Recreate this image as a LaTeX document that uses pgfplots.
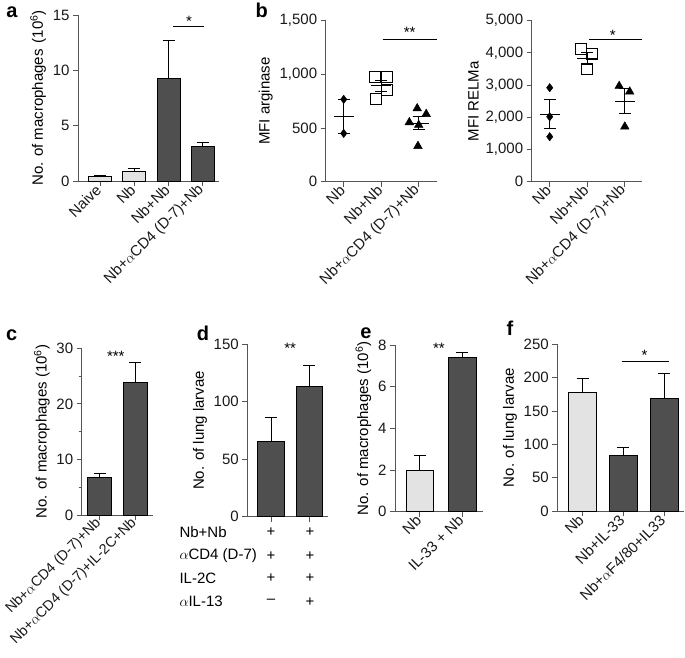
\documentclass[border=0pt]{standalone}
\usepackage{pgfplots}
\pgfplotsset{compat=1.18}
\usepackage{fontspec}
\setmainfont{Liberation Sans}
\definecolor{lightbar}{HTML}{E3E3E3}
\definecolor{darkbar}{HTML}{4F4F4F}
\definecolor{axgray}{HTML}{555555}
\newcommand{\fs}{\fontsize{15}{17}\selectfont}
\pgfplotsset{
  panel/.style={
    scale only axis, anchor=south west,
    axis x line*=bottom, axis y line*=left,
    axis line style={axgray, line width=0.9pt},
    every tick/.style={axgray, line width=0.9pt},
    tick align=outside,
    major tick length=5pt,
    minor tick length=3pt,
    font=\fs,
    tick label style={font=\fs, text=black!90},
    label style={font=\fs},
    /pgf/number format/assume math mode=true,
    /pgf/number format/1000 sep={,},
    clip=false, ymin=0,
    xticklabel style={rotate=45, anchor=east, inner sep=2pt},
  },
  mybar/.style={ybar, bar width=#1, bar shift=0pt, draw=black, line width=0.9pt,
    error bars/y dir=plus, error bars/y explicit,
    error bars/error mark=|,
    error bars/error bar style={black, line width=0.9pt},
    error bars/error mark options={black, line width=0.9pt, mark size=6pt}},
  meanline/.style={black, only marks, mark=-, mark size=10pt, mark options={line width=1pt},
    error bars/y dir=both, error bars/y explicit,
    error bars/error mark=|,
    error bars/error bar style={black, line width=1pt},
    error bars/error mark options={black, line width=1pt, mark size=6pt}},
  sig/.style={black, line width=0.9pt, no marks},
}
\begin{document}
\begin{tikzpicture}
\path[use as bounding box] (0,0) rectangle (685pt,-658pt);
% ---------- a
\begin{axis}[panel, at={(78pt,-181pt)}, width=141pt, height=166pt,
  xmin=-0.64, xmax=3.47, ymax=15, ytick={0,5,10,15},
  xtick={0,1,2,3}, xticklabels={Naive, Nb, Nb+Nb, Nb+$\alpha$CD4 (D-7)+Nb},
  ylabel={No. of macrophages\hspace{0.4em}(10\textsuperscript{6})}]
\addplot[mybar=0.67, fill=lightbar] coordinates {(0,0.40) +- (0,0.10)};
\addplot[mybar=0.67, fill=lightbar] coordinates {(1,0.85) +- (0,0.25)};
\addplot[mybar=0.67, fill=darkbar] coordinates {(2,9.28) +- (0,3.46)};
\addplot[mybar=0.67, fill=darkbar] coordinates {(3,3.16) +- (0,0.34)};
\addplot[sig] coordinates {(2.14,13.94) (3.03,13.94)};
\node[anchor=base, inner sep=0] at (axis cs:2.6,14.0) {*};
\end{axis}
% ---------- b left
\begin{axis}[panel, at={(325.7pt,-181.7pt)}, width=111pt, height=161pt,
  xmin=-0.48, xmax=2.48, ymax=1500, ytick={0,500,1000,1500},
  xtick={0,1,2}, xticklabels={Nb, Nb+Nb, Nb+$\alpha$CD4 (D-7)+Nb},
  ylabel={MFI arginase}]
\addplot[only marks, mark=diamond*, mark size=4.2pt, black] coordinates {(0,767) (0,450)};
\addplot[only marks, mark=square, mark size=5.5pt, black, mark options={line width=0.9pt}] coordinates {(0.83,978) (1.14,972) (0.85,773) (1.14,854)};
\addplot[only marks, mark=triangle*, mark size=5pt, black] coordinates {(1.96,683) (2.2,630) (1.75,553) (2.0,528) (1.98,332)};
\addplot[meanline] coordinates {(0,608) +- (0,158) (1,894) +- (0,50) (2,545) +- (0,59)};
\addplot[sig] coordinates {(1.04,1326) (2.48,1326)};
\node[anchor=base, inner sep=0] at (axis cs:1.76,1348) {**};
\end{axis}
% ---------- b right
\begin{axis}[panel, at={(531.7pt,-181.7pt)}, width=110pt, height=161pt,
  xmin=-0.48, xmax=2.45, ymax=5000, ytick={0,1000,...,5000},
  xtick={0,1,2}, xticklabels={Nb, Nb+Nb, Nb+$\alpha$CD4 (D-7)+Nb},
  ylabel={MFI RELMa}]
\addplot[only marks, mark=diamond*, mark size=4.2pt, black] coordinates {(0,2919) (0,2019) (0,1398)};
\addplot[only marks, mark=square, mark size=5.5pt, black, mark options={line width=0.9pt}] coordinates {(0.82,4120) (1.13,3965) (1.0,3489)};
\addplot[only marks, mark=triangle*, mark size=5pt, black] coordinates {(1.85,2971) (2.13,2795) (2.0,1708)};
\addplot[meanline] coordinates {(0,2101) +- (0,450) (1,3830) +- (0,176) (2,2495) +- (0,390)};
\addplot[sig] coordinates {(1.04,4431) (2.45,4431)};
\node[anchor=base, inner sep=0] at (axis cs:1.68,4400) {*};
\end{axis}
% ---------- c
\begin{axis}[panel, at={(81.7pt,-515pt)}, width=71pt, height=166.7pt,
  xmin=-0.51, xmax=1.49, ymax=30, ytick={0,10,20,30}, minor ytick={5,15,25},
  xtick={0,1}, xticklabels={Nb+$\alpha$CD4 (D-7)+Nb, Nb+$\alpha$CD4 (D-7)+IL-2C+Nb},
  xticklabel style={font=\fontsize{14.3}{16}\selectfont, inner sep=1.5pt},
  ylabel={No. of macrophages (10\textsuperscript{6})}]
\addplot[mybar=0.67, fill=darkbar] coordinates {(0,6.69) +- (0,0.71)};
\addplot[mybar=0.67, fill=darkbar] coordinates {(1,23.8) +- (0,3.7)};
\node[anchor=base, inner sep=0] at (axis cs:0.45,27.7) {***};
\end{axis}
% ---------- d
\begin{axis}[panel, at={(247.3pt,-516.5pt)}, width=80.7pt, height=172.2pt,
  xmin=-0.62, xmax=1.49, ymax=150, ytick={0,50,100,150},
  xtick={0,1}, xticklabels={},
  ylabel={No. of lung larvae}]
\addplot[mybar=0.69, fill=darkbar] coordinates {(0,65.1) +- (0,21.2)};
\addplot[mybar=0.69, fill=darkbar] coordinates {(1,113.1) +- (0,18.3)};
\node[anchor=base, inner sep=0] at (axis cs:0.5,141.7) {**};
\end{axis}
\begin{scope}[every node/.style={font=\fs, inner sep=0}]
\node[anchor=west] at (179.3pt,-532.3pt) {Nb+Nb};
\node[anchor=west] at (179.3pt,-556pt) {$\alpha$CD4 (D-7)};
\node[anchor=west] at (179.3pt,-578.3pt) {IL-2C};
\node[anchor=west] at (179.3pt,-601.7pt) {$\alpha$IL-13};
\node at (271pt,-532.3pt) {+}; \node at (310pt,-532.3pt) {+};
\node at (271pt,-556pt) {+}; \node at (310pt,-556pt) {+};
\node at (271pt,-578.3pt) {+}; \node at (310pt,-578.3pt) {+};
\node at (271pt,-601.7pt) {–}; \node at (310pt,-601.7pt) {+};
\end{scope}
% ---------- e
\begin{axis}[panel, at={(395pt,-511.7pt)}, width=88.3pt, height=166.7pt,
  xmin=-0.59, xmax=1.5, ymax=8, ytick={0,2,4,6,8},
  xtick={0,1}, xticklabels={Nb, IL-33 + Nb},
  ylabel={No. of macrophages (10\textsuperscript{6})}]
\addplot[mybar=0.66, fill=lightbar] coordinates {(0,1.97) +- (0,0.71)};
\addplot[mybar=0.66, fill=darkbar] coordinates {(1,7.39) +- (0,0.24)};
\node[anchor=base, inner sep=0] at (axis cs:0.45,7.58) {**};
\end{axis}
% ---------- f
\begin{axis}[panel, at={(557.3pt,-511pt)}, width=126.7pt, height=166.7pt,
  xmin=-0.62, xmax=2.49, ymax=250, ytick={0,50,...,250},
  xtick={0,1,2}, xticklabels={Nb, Nb+IL-33, Nb+$\alpha$F4/80+IL33},
  ylabel={No. of lung larvae}]
\addplot[mybar=0.69, fill=lightbar] coordinates {(0,177.5) +- (0,21.5)};
\addplot[mybar=0.69, fill=darkbar] coordinates {(1,83) +- (0,12.5)};
\addplot[mybar=0.69, fill=darkbar] coordinates {(2,169) +- (0,37.5)};
\addplot[sig] coordinates {(0.96,224) (2.13,224)};
\node[anchor=base, inner sep=0] at (axis cs:1.52,225) {*};
\end{axis}
% ---------- panel letters
\begin{scope}[every node/.style={font=\bfseries\fontsize{20}{22}\selectfont, inner sep=0}]
\node at (12pt,-12pt) {a};
\node at (261.7pt,-10pt) {b};
\node at (11.7pt,-335pt) {c};
\node at (203pt,-333pt) {d};
\node at (366pt,-333pt) {e};
\node at (510pt,-328pt) {f};
\end{scope}
\end{tikzpicture}
\end{document}
